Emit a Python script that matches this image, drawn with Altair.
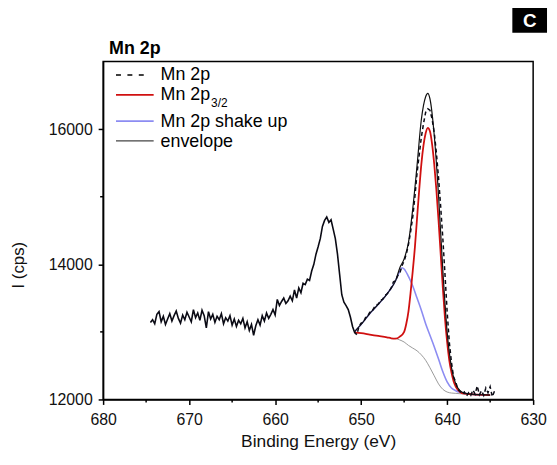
import altair as alt
import pandas as pd

# ---------------- data ----------------
RAW_START = 674.5
RAW_STEP = 0.25
raw_bg_region = [
    13140,
    13180, 13120, 13260, 13300, 13150, 13230, 13110, 13190,
    13270, 13160, 13240, 13310, 13200, 13130, 13250, 13180,
    13290, 13220, 13150, 13330, 13210, 13280, 13170, 13320,
    13240, 13060, 13300, 13190, 13260, 13140, 13230, 13180,
    13270, 13120, 13210, 13160, 13240, 13100, 13190, 13080,
    13170, 13120, 13200, 13060, 13150, 13020, 13110, 12950,
    13090, 13180, 13100, 13240, 13160, 13280, 13200, 13260,
    13330, 13250, 13480, 13390, 13450, 13500, 13420, 13460,
    13530, 13460, 13620, 13500, 13650, 13580, 13720, 13700,
    13780, 13760, 13900, 14000, 14150, 14260, 14380, 14560,
    14650, 14700, 14620, 14660, 14520, 14380, 14150, 13850,
    13550, 13440, 13390, 13330, 13220, 13080, 12990, 12960,
]
raw_fit_region = [
    13080, 13130, 13140, 13210, 13230, 13290, 13300, 13360,
    13400, 13410, 13470, 13480, 13540, 13560, 13600, 13650,
    13740, 13760, 13830, 13870, 13980, 14050, 14150, 14290,
    14480, 14700, 15000, 15350, 15620, 15880, 16080, 16250,
    16300, 16280, 16150, 15950, 15650, 15280, 14850, 14380,
    13850, 13300, 12850, 12550, 12330, 12260, 12150, 12120,
    12080, 12110, 12050, 12100, 12060, 12140, 12080, 12200,
    12070, 12130, 12060, 12170, 12100, 12190, 12040, 12120,
]

env_E = [650.75, 650.5, 650.0, 649.5, 649.0, 648.5, 648.0, 647.5, 647.0, 646.5,
         646.0, 645.5, 645.0, 644.5, 644.0, 643.5, 643.0, 642.5, 642.25, 642.0,
         641.5, 641.0, 640.5, 640.0, 639.5, 639.0, 638.5, 638.0, 637.0, 636.0, 635.0]
env_I = [13000, 13040, 13110, 13190, 13270, 13340, 13410, 13480, 13560, 13650,
         13755, 13950, 14080, 14320, 14820, 15460, 16140, 16480, 16530, 16450,
         15910, 15020, 13910, 13000, 12475, 12230, 12130, 12095, 12075, 12070, 12065]

red_E = [650.75, 650.0, 649.0, 648.0, 647.0, 646.5, 646.0, 645.5, 645.0, 644.75,
         644.5, 644.25, 644.0, 643.75, 643.5, 643.25, 643.0, 642.75, 642.5, 642.25,
         642.0, 641.75, 641.5, 641.25, 641.0, 640.75, 640.5, 640.25, 640.0, 639.75,
         639.5, 639.25, 639.0, 638.5, 638.0, 637.0, 635.0]
red_I = [12990, 12980, 12960, 12940, 12920, 12905, 12900, 12930, 13000, 13120,
         13300, 13580, 13900, 14250, 14680, 15100, 15480, 15760, 15940, 16020,
         15970, 15780, 15480, 15100, 14650, 14150, 13650, 13200, 12850, 12580,
         12400, 12270, 12190, 12110, 12085, 12075, 12065]

blue_E = [650.75, 650.5, 650.0, 649.5, 649.0, 648.5, 648.0, 647.5, 647.0, 646.5,
          646.0, 645.5, 645.25, 645.0, 644.5, 644.0, 643.5, 643.0, 642.5, 642.0,
          641.5, 641.0, 640.5, 640.0, 639.5, 639.0, 638.5, 638.0, 637.0, 635.0]
blue_I = [13000, 13040, 13110, 13190, 13270, 13340, 13410, 13480, 13560, 13650,
          13760, 13900, 13950, 13930, 13820, 13680, 13500, 13320, 13120, 12950,
          12780, 12600, 12410, 12260, 12170, 12130, 12105, 12090, 12075, 12065]

bgd_E = [646.0, 645.5, 645.0, 644.5, 644.0, 643.5, 643.0, 642.5, 642.0, 641.5,
         641.0, 640.5, 640.0, 639.5, 639.0, 638.5, 638.0, 637.0, 635.0]
bgd_I = [12905, 12880, 12850, 12800, 12760, 12720, 12660, 12580, 12470, 12350,
         12230, 12150, 12110, 12095, 12090, 12085, 12080, 12075, 12065]

x_major = [680, 670, 660, 650, 640, 630]
x_minor = [675, 665, 655, 645, 635]
y_major = [12000, 14000, 16000]
y_minor = [13000, 15000]

# ---------------- frames ----------------
raw_all = raw_bg_region + raw_fit_region
raw_E = [round(RAW_START - RAW_STEP * i, 2) for i in range(len(raw_all))]
n_bg = len(raw_bg_region)
raw_left = pd.DataFrame({"E": raw_E[:n_bg], "I": raw_all[:n_bg]})
raw_right = pd.DataFrame({"E": raw_E[n_bg - 1:], "I": raw_all[n_bg - 1:]})
env = pd.DataFrame({"E": env_E, "I": env_I})
red = pd.DataFrame({"E": red_E, "I": red_I})
blue = pd.DataFrame({"E": blue_E, "I": blue_I})
bgd = pd.DataFrame({"E": bgd_E, "I": bgd_I})

W, H = 434, 341
FONT = "Liberation Sans"
RED = "#d01010"
BLUE = "#8c8cf2"

xs = alt.Scale(domain=[680, 630], nice=False, zero=False)
ys = alt.Scale(domain=[12000, 17000], nice=False, zero=False)

X = alt.X("E:Q", scale=xs, axis=alt.Axis(values=x_major, title="Binding Energy (eV)",
                                          tickSize=5, labelPadding=7, titlePadding=5, format="d",
                                          labelFlush=False, titleFontSize=17.5))
Y = alt.Y("I:Q", scale=ys, axis=alt.Axis(values=y_major, title="I (cps)",
                                          tickSize=5, labelPadding=6, format="d", labelFlush=False,
                                          titleFontSize=17, titleAngle=270, titleX=-85, titleY=205,
                                          titleAlign="center", titleBaseline="middle"))


def curve(df, color, width, dash=None, interp="linear"):
    kw = dict(color=color, strokeWidth=width, interpolate=interp, clip=True)
    if dash:
        kw["strokeDash"] = dash
    return alt.Chart(df).mark_line(**kw).encode(x=X, y=Y, order="E:Q")


l_bgd = curve(bgd, "#8f8f8f", 0.9, interp="monotone")
l_blue = curve(blue, BLUE, 1.6, interp="monotone")
l_red = curve(red, RED, 1.8, interp="monotone")
l_env = curve(env, "#111111", 1.2, interp="monotone")
l_raw1 = curve(raw_left, "#0a0a14", 1.6)
l_raw2 = curve(raw_right, "#0a0a14", 1.5, dash=[4, 3])

# minor ticks
xm = alt.Chart(pd.DataFrame({"E": x_minor})).mark_rule(color="black", strokeWidth=1.5).encode(
    x=alt.X("E:Q", scale=xs), y=alt.value(H), y2=alt.value(H + 3))
ym = alt.Chart(pd.DataFrame({"I": y_minor})).mark_rule(color="black", strokeWidth=1.5).encode(
    y=alt.Y("I:Q", scale=ys), x=alt.value(0), x2=alt.value(-3))

one = alt.Data(values=[{"k": 0}])


def leg_line(y, color, width, x1=13, x2=51, dash=None):
    kw = dict(color=color, strokeWidth=width)
    if dash:
        kw["strokeDash"] = dash
    return alt.Chart(one).mark_rule(**kw).encode(
        x=alt.value(x1), x2=alt.value(x2), y=alt.value(y))


def txt(s, x, y, size=18, weight="normal", color="black", align="left", baseline="middle"):
    return alt.Chart(one).mark_text(text=s, font=FONT, fontSize=size, fontWeight=weight,
                                    color=color, align=align, baseline=baseline).encode(
        x=alt.value(x), y=alt.value(y))


legend = [
    leg_line(13.5, "black", 1.4, x1=13, x2=41, dash=[5, 6.5]), txt("Mn 2p", 58, 14),
    leg_line(33.5, RED, 1.8), txt("Mn 2p", 58, 34), txt("3/2", 109, 41.5, size=12),
    leg_line(60, BLUE, 1.8), txt("Mn 2p shake up", 58, 61),
    leg_line(80, "#444444", 1.4), txt("envelope", 58, 81),
]

title = txt("Mn 2p", 6, -8, size=18, weight="bold", baseline="alphabetic")
badge = alt.Chart(one).mark_rect(color="black").encode(
    x=alt.value(413), x2=alt.value(448), y=alt.value(-54), y2=alt.value(-29))
badge_t = txt("C", 430.5, -41, size=19, weight="bold", color="white", align="center")

chart = alt.layer(
    l_bgd, l_blue, l_red, l_env, l_raw1, l_raw2, xm, ym, *legend, title, badge, badge_t
).properties(
    width=W, height=H,
    padding={"left": 96, "top": 52, "right": 16, "bottom": 56},
    autosize=alt.AutoSizeParams(type="none"),
).configure_view(
    stroke="black", strokeWidth=1.5
).configure_axis(
    grid=False, domainColor="black", domainWidth=1.5, tickColor="black", tickWidth=1.5,
    labelFont=FONT, labelFontSize=16, labelColor="#111111",
    titleFont=FONT, titleFontSize=17, titleFontWeight="normal", titleColor="#111111",
)

chart.save("out.html", embed_options={"renderer": "svg", "actions": False})
